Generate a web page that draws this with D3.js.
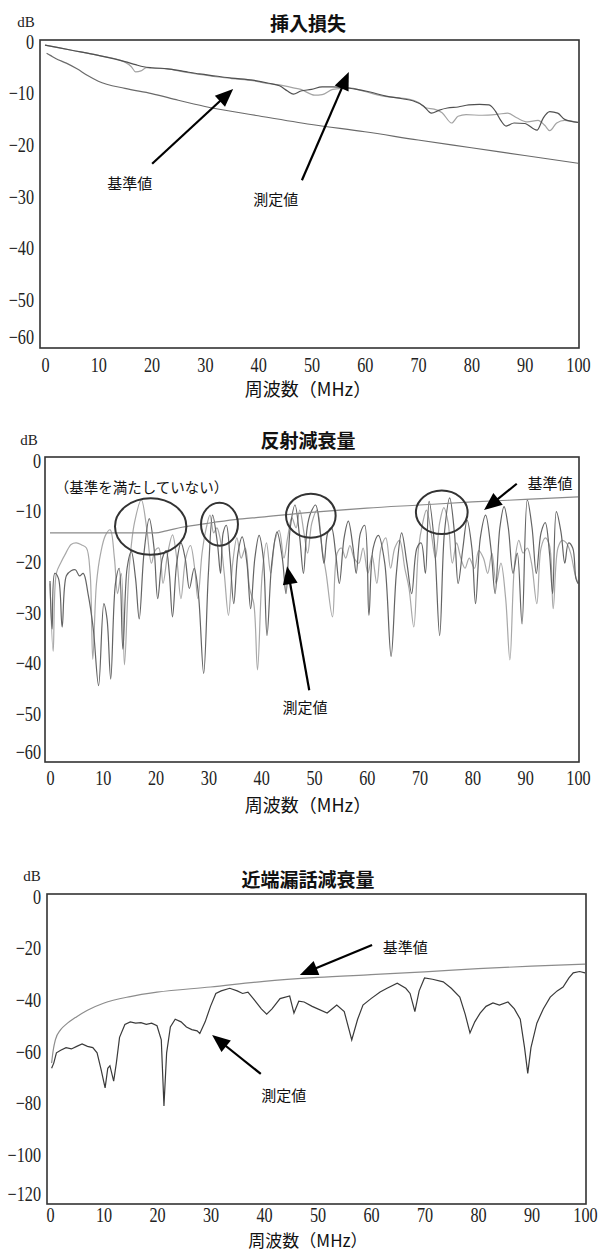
<!DOCTYPE html>
<html>
<head>
<meta charset="utf-8">
<script src="https://cdn.jsdelivr.net/npm/d3@7"></script>
<style>
  body { margin: 0; background: #fff; }
  text { font-family: "Noto Sans CJK JP", sans-serif; }
  .tick text { font-family: "Liberation Serif", serif; fill: #222; }
</style>
</head>
<body>
<div id="chart"></div>
<script>
// x axis (MHz), same for all three panels
var freqTicks = [0, 10, 20, 30, 40, 50, 60, 70, 80, 90, 100];

// ---------------- 挿入損失 ----------------
var ilTicks = [0, -10, -20, -30, -40, -50, -60];
var ilStd = [[0.3,-2],[1,-2.4],[2,-3],[4,-3.9],[6,-5],[8,-6.3],[10,-7.4],[15,-8.8],[20,-9.8],[25,-11.1],
  [30,-12.3],[40,-14.1],[50,-15.8],[60,-17.2],[70,-18.8],[80,-20.3],[90,-21.8],[100,-23.3]];
var ilMeasDark = [[0,-0.4],[5,-1.4],[10,-2.4],[15,-3.6],[17,-4.2],[18.5,-4.6],[20,-4.8],[23,-5],[26,-5.5],
  [29,-6],[32,-6.4],[35,-6.8],[39,-7.2],[42,-7.8],[44,-8.3],[45.5,-9.3],[46.6,-9.9],[48,-9.3],[50,-9],
  [52,-8.5],[54,-8.5],[56,-8.6],[58,-8.9],[61,-9.5],[64,-10.3],[67,-10.8],[69,-11.2],[71,-12.2],[72.5,-13.6],
  [74,-13],[75.5,-12.6],[77.5,-12.4],[79.5,-12],[81.5,-11.9],[83.3,-12],[84.5,-13.2],[85.5,-15],[86.5,-16.1],
  [88,-15.5],[90,-15.6],[92.3,-16.9],[93.5,-14.5],[94.7,-13.3],[96.2,-13.6],[97.5,-14.8],[100,-15.4]];
var ilMeasLight = [[0,-0.4],[5,-1.4],[10,-2.4],[15,-3.7],[16.2,-4.6],[17,-5.6],[18,-5.4],[19,-4.8],[21,-4.9],
  [23,-5],[26,-5.6],[29,-6.1],[32,-6.5],[35,-6.9],[39,-7.3],[42,-7.9],[44,-8.1],[46.6,-8.7],[48,-9],
  [50.6,-10.1],[52,-10],[54,-9],[57,-8.7],[60,-9.4],[63.4,-10.3],[66,-10.6],[68.4,-10.9],[70,-11.5],
  [71.6,-12.6],[73,-12.8],[74.5,-13.5],[76.3,-15.5],[77.5,-14.2],[79,-13.9],[82,-14],[85,-13.8],[86.8,-13.6],
  [88.5,-14.5],[90.5,-15.3],[92.5,-15],[93.8,-16],[94.7,-17],[96,-15.5],[97.5,-15],[100,-15.4]];

// ---------------- 反射減衰量 ----------------
var rlTicks = [0, -10, -20, -30, -40, -50, -60];
var rlStd = [[0,-14],[20,-14],[22,-13.6],[25,-12.9],[30,-12.1],[35,-11.4],[40,-10.9],[50,-9.9],[60,-9.1],
  [70,-8.5],[80,-7.9],[90,-7.4],[100,-6.9]];
var rlMeasDark = [[0,-23.5],[0.4,-33],[0.9,-22],[1.6,-23],[2.3,-32.6],[3.1,-22.5],[4,-21.5],[4.8,-21.3],
  [5.6,-22.5],[6.3,-22],[7.2,-26],[8.2,-33],[9.2,-44.2],[10.2,-28],[10.8,-31],[11.5,-42.9],[12.4,-24],
  [13.1,-21],[13.8,-37],[14.6,-21],[15.4,-17.7],[16.2,-23],[16.9,-31],[17.8,-18],[18.8,-11.2],[19.7,-17],
  [20.4,-27],[21.3,-19],[22,-17.5],[22.6,-22],[23.2,-30.6],[24,-20],[24.8,-16],[25.6,-19],[26.4,-25],
  [27.3,-21],[28.1,-26],[29.1,-41.8],[30,-22],[30.8,-10.5],[31.7,-16],[32.3,-22],[32.8,-14],[33.4,-12.5],
  [34.1,-19],[34.8,-28],[35.6,-18],[36.4,-14.8],[37.3,-20],[38,-29],[38.8,-19],[39.6,-14.5],[40.4,-19],
  [41.1,-34.3],[42,-20],[43,-13.8],[44,-19],[44.7,-26],[45.5,-13],[46.4,-8.5],[47.3,-15],[48,-22],
  [48.7,-13],[49.4,-10],[50.3,-8.5],[51.2,-14],[51.9,-20],[52.6,-14],[53.3,-13],[54.1,-18],[54.8,-24],
  [55.7,-15],[56.5,-11.7],[57.4,-17],[58,-22],[58.8,-14],[59.6,-12.5],[60.4,-30.3],[61.2,-17],[62.2,-14.5],
  [63.4,-20],[64.6,-38.4],[65.6,-22],[66.6,-14],[67.6,-20],[68.5,-26],[69.5,-17],[70.3,-16],[71.1,-22],
  [71.8,-7.8],[72.8,-16],[73.8,-34.3],[74.7,-14],[75.7,-7.1],[76.6,-14],[77.3,-24],[78.2,-17],[79,-11.5],
  [79.9,-17],[80.6,-28],[81.5,-15],[82.5,-10.5],[83.5,-17],[84.3,-26],[85.2,-13],[86,-8.8],[86.8,-13],
  [87.7,-22],[88.5,-18],[89.4,-32],[90.4,-7.5],[91.3,-13],[92.1,-22],[93,-14],[93.8,-12],[94.6,-18],
  [95.2,-26],[95.9,-9.8],[96.8,-14],[97.5,-20],[98.2,-16],[99,-17],[99.6,-23],[100,-24]];
var rlMeasLight = [[0,-24],[0.6,-37.4],[1.2,-22],[2,-20],[3,-18],[4,-16.3],[5,-16],[6,-16.4],[6.9,-17],
  [7.6,-22],[8.1,-39],[8.8,-24],[9.6,-18],[10.5,-14.5],[11.4,-13.4],[12.2,-19],[12.8,-26],[13.5,-22],
  [14.1,-40.1],[15,-21],[16,-12],[17.3,-7.5],[18.3,-13],[19.2,-20],[19.9,-17.5],[20.6,-17],[21.4,-24],
  [22.3,-18],[23.2,-14.4],[24,-19],[24.8,-27],[25.7,-19],[26.6,-16.5],[27.4,-21],[28,-27],[28.8,-18],
  [29.6,-13],[30.3,-10.5],[31,-14],[31.6,-13],[32.2,-15],[33,-22],[33.8,-30.3],[34.6,-20],[35.4,-15],
  [36.2,-19],[37,-17],[37.8,-25],[38.6,-28],[39.3,-41.1],[40.2,-22],[41,-16],[41.8,-22],[42.6,-15.5],
  [43.4,-13.5],[44.3,-19],[45,-15],[45.8,-11],[46.6,-13],[47.3,-9.5],[48.1,-14],[48.8,-18],[49.6,-12],
  [50.6,-9.5],[51.5,-17],[52.3,-22],[53.5,-30.6],[54.4,-18],[55.2,-17],[56,-19],[56.8,-16.5],[57.6,-19],
  [58.5,-20],[59.3,-17],[60.2,-22],[61,-18.5],[61.9,-24],[62.7,-17],[63.6,-15],[64.5,-21],[65.3,-17],
  [66.2,-15.5],[67.2,-21],[68,-25],[68.9,-32.6],[69.8,-17],[70.6,-12],[71.3,-9.5],[72.2,-14],[73,-19],
  [73.8,-12],[74.6,-9],[75.4,-12],[76.2,-20],[77,-16],[77.8,-19],[78.6,-21],[79.4,-19],[80.4,-21],
  [81.2,-17.5],[82.1,-19],[82.9,-22],[83.7,-18],[84.5,-24],[85.4,-20],[86.3,-27],[87.1,-39.1],[88,-20],
  [88.8,-15.5],[89.6,-18],[90.4,-17],[91.2,-20],[92.2,-28],[93,-17],[93.8,-15],[94.6,-16.5],[95.3,-29],
  [96.2,-17],[97,-15.5],[97.8,-16],[98.6,-18],[99.4,-22],[100,-24]];

// ---------------- 近端漏話減衰量 ----------------
var nextTicks = [0, -20, -40, -60, -80, -100, -120];
var nextStd = [[0.3,-64],[0.6,-59],[1,-55],[2,-51],[3,-49],[5,-46],[7,-43.5],[10,-40.8],[15,-38.2],
  [20,-36.5],[30,-34.5],[40,-32.3],[50,-30.8],[60,-29.7],[70,-28.6],[80,-27.4],[90,-26.4],[100,-25.6]];
var nextMeas = [[0.3,-66],[0.7,-64],[1.2,-60],[2,-59],[3,-58],[4,-58.5],[5,-57.5],[6,-56.6],[7,-57.5],
  [8,-58],[8.8,-60],[9.5,-66],[10.3,-73.6],[10.8,-66],[11.2,-65],[11.9,-71],[12.4,-64],[13,-54],[14,-49],
  [15,-48],[16,-48.5],[17,-48.3],[18,-49],[19,-48.5],[20,-49.5],[20.8,-55],[21.3,-80.6],[21.8,-60],
  [22.5,-50],[23.4,-47],[24.5,-48],[25.5,-50],[26.5,-51],[27.5,-51.5],[28,-52.5],[29,-48],[30,-42],
  [31,-37],[32,-36],[33.6,-35],[35,-36],[36,-37],[37,-36.5],[38,-39],[39.5,-43],[40.5,-45],[41.5,-43],
  [43,-39],[44.8,-38],[45.6,-44.6],[46.5,-40],[47.5,-40.3],[49,-42],[51.8,-44.6],[53.6,-41.5],[55,-44],
  [56.4,-55],[57.5,-47],[58.5,-41.5],[60,-39],[61.7,-36.4],[63,-35],[64.9,-33],[66.5,-35],[67.3,-37],
  [68.2,-44],[69,-36],[70,-31],[71.5,-31.5],[73.5,-32.5],[75,-35],[76.6,-38.4],[77.6,-45],[78.5,-52.3],
  [79.4,-48],[80.4,-44.6],[81.5,-42],[82.8,-40.7],[84,-41.5],[85.6,-40.3],[86.8,-43],[87.9,-47],
  [88.7,-58],[89.3,-68],[89.9,-58],[91,-48.5],[92.2,-43],[93.5,-38.4],[94.8,-36],[95.9,-34.5],[97,-31],
  [97.8,-29],[99,-28.5],[100,-29]];

// panel layout (pixels) and annotations (in data units)
var panels = [
  {
    title: "挿入損失", titleY: 31, dbX: 26, dbY: 27,
    frame: [40, 40, 579, 348], xRange: [45, 578],
    yDomain: [0, -50, -60], yRange: [43, 301, 338], yTicks: ilTicks, yPad: 6,
    xPad: 8, axisTitleY: 396, axisTitleSize: 18,
    series: [
      { data: ilStd, color: "#6a6a6a", curve: d3.curveMonotoneX },
      { data: ilMeasLight, color: "#a3a3a3", curve: d3.curveMonotoneX },
      { data: ilMeasDark, color: "#505050", curve: d3.curveMonotoneX }
    ],
    arrows: [
      { from: [20.1, -23.4], to: [35.3, -8.9], label: "基準値", at: [15.9, -28.3] },
      { from: [48.2, -26.6], to: [57, -5.6], label: "測定値", at: [43.3, -31.4] }
    ],
    rings: [], notes: []
  },
  {
    title: "反射減衰量", titleY: 448, dbX: 29, dbY: 445,
    frame: [45, 457, 579, 762], xRange: [50, 578],
    yDomain: [0, -50, -60], yRange: [462, 715, 753], yTicks: rlTicks, yPad: 4,
    xPad: 7, axisTitleY: 812, axisTitleSize: 18,
    series: [
      { data: rlMeasLight, color: "#a8a8a8", curve: d3.curveCatmullRom.alpha(0.5) },
      { data: rlMeasDark, color: "#646464", curve: d3.curveCatmullRom.alpha(0.5) },
      { data: rlStd, color: "#8a8a8a", curve: d3.curveMonotoneX }
    ],
    arrows: [
      { from: [88.4, -4.3], to: [82.2, -9.5], label: "基準値", at: [94.7, -5.3] },
      { from: [49.1, -45.1], to: [44.9, -20.6], label: "測定値", at: [48.3, -49.6] }
    ],
    rings: [[19.07, -12.75, 6.76, 5.6], [32.1, -12.3, 3.5, 4.25], [49.4, -10.6, 4.7, 4.35], [74.2, -9.95, 4.9, 4.3]],
    notes: [{ text: "（基準を満たしていない）", at: [0.9, -6.1] }]
  },
  {
    title: "近端漏話減衰量", titleY: 887, dbX: 32, dbY: 881,
    frame: [47, 894, 586, 1204], xRange: [50, 585],
    yDomain: [0, -100, -120], yRange: [898, 1156, 1195], yTicks: nextTicks, yPad: 6,
    xPad: 3, axisTitleY: 1247, axisTitleSize: 17,
    series: [
      { data: nextStd, color: "#8c8c8c", curve: d3.curveMonotoneX },
      { data: nextMeas, color: "#3a3a3a", curve: d3.curveLinear }
    ],
    arrows: [
      { from: [60.2, -18.2], to: [46.7, -29.8], label: "基準値", at: [66.4, -21.3] },
      { from: [39.4, -68.2], to: [30.3, -53.1], label: "測定値", at: [43.7, -78.7] }
    ],
    rings: [], notes: []
  }
];

var W = 598, H = 1252;
var svg = d3.select("#chart").append("svg").attr("width", W).attr("height", H);

function drawArrow(g, x1, y1, x2, y2) {
  var a = Math.atan2(y2 - y1, x2 - x1), L = 18, w = 7.5;
  var bx = x2 - L * Math.cos(a), by = y2 - L * Math.sin(a);
  g.append("line")
    .attr("x1", x1).attr("y1", y1)
    .attr("x2", bx + 2 * Math.cos(a)).attr("y2", by + 2 * Math.sin(a))
    .attr("stroke", "#000").attr("stroke-width", 2.2);
  g.append("path")
    .attr("d", "M" + x2 + "," + y2 +
      "L" + (bx + w * Math.sin(a)) + "," + (by - w * Math.cos(a)) +
      "L" + (bx - w * Math.sin(a)) + "," + (by + w * Math.cos(a)) + "Z")
    .attr("fill", "#000");
}

panels.forEach(function (p, k) {
  var g = svg.append("g");
  var x = d3.scaleLinear().domain([0, 100]).range(p.xRange);
  var y = d3.scaleLinear().domain(p.yDomain).range(p.yRange);
  var fr = p.frame;

  // title
  g.append("text")
    .attr("x", 308).attr("y", p.titleY)
    .attr("text-anchor", "middle")
    .attr("font-size", 19).attr("font-weight", 700).attr("fill", "#111")
    .text(p.title);

  g.append("text")
    .attr("x", p.dbX).attr("y", p.dbY)
    .attr("text-anchor", "middle")
    .style("font-family", "Liberation Serif, serif")
    .attr("font-size", 15).attr("fill", "#222")
    .text("dB");

  // axes (labels only, the frame is drawn separately)
  var ax = g.append("g")
    .attr("transform", "translate(0," + fr[3] + ")")
    .call(d3.axisBottom(x).tickValues(freqTicks).tickSize(0).tickPadding(p.xPad));
  ax.select(".domain").remove();
  ax.selectAll("text").attr("font-size", 18).attr("transform", "scale(0.9,1.15)");

  var ay = g.append("g")
    .attr("transform", "translate(" + fr[0] + ",0)")
    .call(d3.axisLeft(y).tickValues(p.yTicks).tickSize(0).tickFormat(d3.format("d")));
  ay.select(".domain").remove();
  ay.selectAll("text").attr("font-size", 18).attr("x", -p.yPad / 0.9).attr("dy", "0.28em")
    .attr("transform", "scale(0.9,1.15)")
    .attr("y", 0);
  ay.selectAll(".tick").each(function (d) {
    d3.select(this).attr("transform", "translate(0," + y(d) + ")");
  });

  // curves
  var clipId = "clip" + k;
  g.append("clipPath").attr("id", clipId).append("rect")
    .attr("x", fr[0]).attr("y", fr[1]).attr("width", fr[2] - fr[0]).attr("height", fr[3] - fr[1]);

  var plot = g.append("g").attr("clip-path", "url(#" + clipId + ")");
  p.series.forEach(function (s) {
    var line = d3.line()
      .x(function (d) { return x(d[0]); })
      .y(function (d) { return y(d[1]); })
      .curve(s.curve);
    plot.append("path")
      .datum(s.data)
      .attr("d", line)
      .attr("fill", "none")
      .attr("stroke", s.color)
      .attr("stroke-width", 1.2);
  });

  // frame
  g.append("rect")
    .attr("x", fr[0]).attr("y", fr[1])
    .attr("width", fr[2] - fr[0]).attr("height", fr[3] - fr[1])
    .attr("fill", "none").attr("stroke", "#333").attr("stroke-width", 1.6);

  // axis title
  g.append("text")
    .attr("x", 308).attr("y", p.axisTitleY)
    .attr("text-anchor", "middle")
    .attr("font-size", p.axisTitleSize).attr("fill", "#111")
    .text("周波数（MHz）");

  // ellipses marking the failing peaks
  p.rings.forEach(function (r) {
    g.append("ellipse")
      .attr("cx", x(r[0])).attr("cy", y(r[1]))
      .attr("rx", x(r[2]) - x(0)).attr("ry", y(-r[3]) - y(0))
      .attr("fill", "none").attr("stroke", "#333").attr("stroke-width", 2);
  });

  p.notes.forEach(function (n) {
    g.append("text")
      .attr("x", x(n.at[0])).attr("y", y(n.at[1]))
      .attr("font-size", 14.5).attr("fill", "#111")
      .text(n.text);
  });

  p.arrows.forEach(function (a) {
    drawArrow(g, x(a.from[0]), y(a.from[1]), x(a.to[0]), y(a.to[1]));
    g.append("text")
      .attr("x", x(a.at[0])).attr("y", y(a.at[1]))
      .attr("text-anchor", "middle")
      .attr("font-size", 15).attr("fill", "#111")
      .text(a.label);
  });
});
</script>
</body>
</html>
